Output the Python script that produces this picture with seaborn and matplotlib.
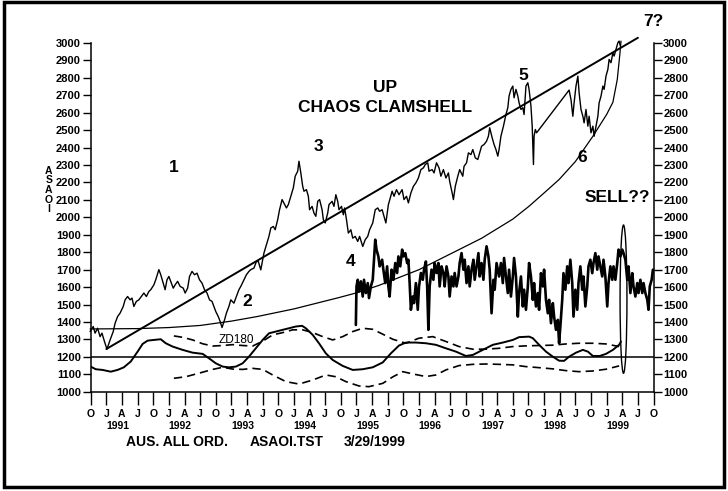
import numpy as np
import pandas as pd
import seaborn as sns
import matplotlib.pyplot as plt
from matplotlib.patches import Ellipse, Rectangle
import matplotlib.transforms as mtransforms

# ASAOI weekly closes (decimal year, index value)
price_year = [
    1990.74, 1990.79, 1990.82, 1990.86, 1990.90, 1990.93, 1990.97, 1991.01, 1991.06, 1991.11,
    1991.14, 1991.18, 1991.22, 1991.27, 1991.30, 1991.34, 1991.38, 1991.41, 1991.44, 1991.48,
    1991.52, 1991.56, 1991.60, 1991.64, 1991.68, 1991.71, 1991.76, 1991.79, 1991.84, 1991.87,
    1991.91, 1991.94, 1991.97, 1992.00, 1992.03, 1992.07, 1992.10, 1992.14, 1992.18, 1992.23,
    1992.26, 1992.30, 1992.33, 1992.37, 1992.41, 1992.45, 1992.49, 1992.53, 1992.57, 1992.61,
    1992.65, 1992.69, 1992.72, 1992.75, 1992.79, 1992.82, 1992.85, 1992.89, 1992.92, 1992.96,
    1992.99, 1993.04, 1993.08, 1993.12, 1993.15, 1993.20, 1993.24, 1993.28, 1993.31, 1993.36,
    1993.40, 1993.43, 1993.47, 1993.50, 1993.52, 1993.56, 1993.60, 1993.63, 1993.67, 1993.70,
    1993.74, 1993.77, 1993.81, 1993.84, 1993.88, 1993.91, 1993.95, 1993.99, 1994.02, 1994.06,
    1994.08, 1994.11, 1994.14, 1994.16, 1994.20, 1994.23, 1994.25, 1994.29, 1994.32, 1994.35,
    1994.38, 1994.41, 1994.45, 1994.47, 1994.50, 1994.54, 1994.56, 1994.61, 1994.64, 1994.67,
    1994.70, 1994.72, 1994.76, 1994.79, 1994.81, 1994.84, 1994.87, 1994.91, 1994.94, 1994.98,
    1995.02, 1995.05, 1995.10, 1995.14, 1995.18, 1995.21, 1995.26, 1995.30, 1995.34, 1995.37,
    1995.41, 1995.44, 1995.47, 1995.51, 1995.57, 1995.60, 1995.64, 1995.68, 1995.73, 1995.76,
    1995.80, 1995.83, 1995.87, 1995.91, 1995.95, 1995.99, 1996.03, 1996.07, 1996.10, 1996.14,
    1996.16, 1996.21, 1996.24, 1996.28, 1996.32, 1996.35, 1996.39, 1996.43, 1996.47, 1996.49,
    1996.53, 1996.55, 1996.58, 1996.62, 1996.65, 1996.70, 1996.72, 1996.76, 1996.79, 1996.83,
    1996.86, 1996.90, 1996.94, 1996.97, 1997.00, 1997.04, 1997.08, 1997.11, 1997.13, 1997.17,
    1997.20, 1997.23, 1997.26, 1997.28, 1997.31, 1997.35, 1997.39, 1997.42, 1997.44, 1997.47,
    1997.50, 1997.52, 1997.55, 1997.58, 1997.60, 1997.63, 1997.66, 1997.68, 1997.71, 1997.74,
    1997.76, 1997.79, 1997.81, 1997.83, 1997.84, 1997.86, 1997.88, 1998.40, 1998.43, 1998.46,
    1998.48, 1998.51, 1998.54, 1998.56, 1998.59, 1998.62, 1998.64, 1998.67, 1998.70, 1998.72,
    1998.75, 1998.78, 1998.80, 1998.83, 1998.86, 1998.88, 1998.91, 1998.94, 1998.96, 1998.99,
    1999.02, 1999.04, 1999.07, 1999.10, 1999.12, 1999.15, 1999.18, 1999.20, 1999.22,
]
price_value = [
    1345, 1374, 1336, 1364, 1316, 1336, 1288, 1244, 1297, 1345,
    1393, 1431, 1451, 1489, 1527, 1546, 1527, 1537, 1489, 1518,
    1527, 1546, 1566, 1546, 1575, 1585, 1613, 1642, 1700, 1671,
    1623, 1585, 1642, 1661, 1633, 1594, 1613, 1633, 1604, 1594,
    1566, 1594, 1661, 1690, 1671, 1680, 1642, 1623, 1585, 1566,
    1527, 1518, 1489, 1460, 1431, 1403, 1368, 1412, 1451, 1489,
    1527, 1508, 1546, 1585, 1604, 1642, 1671, 1690, 1700, 1709,
    1747, 1747, 1699, 1757, 1795, 1843, 1891, 1939, 1948, 1929,
    1987, 2044, 2102, 2082, 2054, 2073, 2121, 2169, 2236, 2265,
    2322, 2255, 2178, 2150, 2159, 2121, 2044, 2063, 2025, 2006,
    2092, 2102, 2044, 1987, 1968, 2025, 2073, 2092, 2063, 2130,
    2092, 2044, 2063, 2015, 2054, 1987, 1910, 1929, 1881, 1891,
    1862, 1891, 1833, 1872, 1891, 1929, 1968, 2044, 2054, 2035,
    2044, 2006, 1968, 2073, 2150, 2121, 2159, 2130, 2159, 2102,
    2121, 2083, 2140, 2178, 2198, 2226, 2274, 2284, 2303, 2313,
    2265, 2274, 2255, 2313, 2284, 2236, 2274, 2226, 2255, 2207,
    2140, 2102, 2178, 2236, 2274, 2236, 2293, 2313, 2370, 2360,
    2389, 2341, 2332, 2370, 2408, 2418, 2437, 2466, 2514, 2456,
    2418, 2389, 2351, 2389, 2466, 2523, 2590, 2629, 2696, 2734,
    2753, 2686, 2734, 2696, 2657, 2619, 2629, 2590, 2753, 2772,
    2734, 2638, 2523, 2303, 2466, 2504, 2485, 2730, 2676, 2580,
    2657, 2753, 2810, 2715, 2619, 2580, 2542, 2619, 2523, 2580,
    2485, 2523, 2465, 2523, 2580, 2657, 2695, 2753, 2734, 2810,
    2849, 2906, 2887, 2944, 2925, 2964, 3002, 3011, 2983,
]

# detrended cycle series (noisy band, 1995-1999)
cycle_year = [
    1994.99, 1995.00, 1995.02, 1995.04, 1995.07, 1995.10, 1995.12, 1995.15, 1995.18, 1995.20,
    1995.23, 1995.26, 1995.28, 1995.30, 1995.32, 1995.35, 1995.37, 1995.41, 1995.43, 1995.46,
    1995.49, 1995.51, 1995.53, 1995.56, 1995.59, 1995.62, 1995.65, 1995.67, 1995.70, 1995.73,
    1995.75, 1995.78, 1995.81, 1995.83, 1995.85, 1995.87, 1995.90, 1995.92, 1995.95, 1995.98,
    1996.00, 1996.03, 1996.06, 1996.08, 1996.11, 1996.13, 1996.15, 1996.17, 1996.20, 1996.23,
    1996.25, 1996.28, 1996.31, 1996.33, 1996.36, 1996.39, 1996.41, 1996.44, 1996.47, 1996.49,
    1996.52, 1996.55, 1996.57, 1996.60, 1996.63, 1996.65, 1996.68, 1996.71, 1996.73, 1996.76,
    1996.79, 1996.81, 1996.84, 1996.87, 1996.89, 1996.92, 1996.95, 1996.97, 1997.00, 1997.03,
    1997.05, 1997.08, 1997.11, 1997.13, 1997.16, 1997.19, 1997.21, 1997.24, 1997.27, 1997.28,
    1997.31, 1997.34, 1997.36, 1997.39, 1997.42, 1997.44, 1997.47, 1997.50, 1997.52, 1997.55,
    1997.58, 1997.60, 1997.63, 1997.66, 1997.68, 1997.71, 1997.74, 1997.76, 1997.79, 1997.82,
    1997.84, 1997.87, 1997.90, 1997.92, 1997.95, 1997.98, 1998.00, 1998.03, 1998.06, 1998.08,
    1998.11, 1998.14, 1998.16, 1998.19, 1998.22, 1998.24, 1998.26, 1998.29, 1998.31, 1998.34,
    1998.37, 1998.39, 1998.42, 1998.45, 1998.47, 1998.50, 1998.53, 1998.55, 1998.58, 1998.61,
    1998.63, 1998.66, 1998.69, 1998.71, 1998.74, 1998.77, 1998.79, 1998.82, 1998.85, 1998.87,
    1998.90, 1998.93, 1998.95, 1998.98, 1999.01, 1999.03, 1999.06, 1999.09, 1999.11, 1999.14,
    1999.17, 1999.19, 1999.22, 1999.25, 1999.27, 1999.30, 1999.33, 1999.35, 1999.38, 1999.41,
    1999.43, 1999.46, 1999.49, 1999.51, 1999.54, 1999.57, 1999.59, 1999.62, 1999.65, 1999.67,
    1999.69, 1999.72, 1999.74,
]
cycle_value = [
    1383, 1604, 1642, 1575, 1633, 1546, 1642, 1566, 1623, 1537,
    1604, 1642, 1757, 1872, 1815, 1776, 1719, 1757, 1700, 1623,
    1719, 1604, 1546, 1700, 1642, 1738, 1681, 1776, 1719, 1815,
    1776, 1795, 1738, 1757, 1623, 1470, 1546, 1508, 1623, 1470,
    1604, 1681, 1642, 1700, 1747, 1604, 1355, 1604, 1700, 1642,
    1738, 1681, 1738, 1604, 1719, 1681, 1604, 1719, 1661, 1546,
    1661, 1604, 1681, 1604, 1661, 1738, 1795, 1700, 1757, 1623,
    1719, 1604, 1700, 1757, 1642, 1719, 1795, 1661, 1738, 1642,
    1757, 1834, 1776, 1700, 1450, 1642, 1585, 1738, 1681, 1661,
    1738, 1623, 1767, 1661, 1566, 1700, 1546, 1661, 1767, 1661,
    1431, 1566, 1661, 1489, 1585, 1470, 1604, 1738, 1661, 1527,
    1623, 1489, 1566, 1470, 1680, 1604, 1700, 1527, 1450, 1527,
    1393, 1508, 1431, 1355, 1412, 1278, 1374, 1527, 1680, 1585,
    1719, 1623, 1757, 1623, 1431, 1585, 1470, 1623, 1719, 1585,
    1661, 1489, 1604, 1719, 1757, 1680, 1738, 1795, 1700, 1776,
    1719, 1661, 1757, 1661, 1489, 1623, 1719, 1642, 1719, 1642,
    1738, 1815, 1776, 1815, 1795, 1757, 1642, 1719, 1566, 1680,
    1604, 1546, 1623, 1566, 1642, 1566, 1623, 1566, 1527, 1470,
    1604, 1642, 1700,
]

# ZD180 oscillator and its dashed bands
zd_year = [
    1990.75, 1990.83, 1990.94, 1991.07, 1991.18, 1991.28, 1991.39, 1991.50, 1991.58, 1991.66,
    1991.76, 1991.87, 1991.95, 1992.06, 1992.22, 1992.38, 1992.54, 1992.64, 1992.75, 1992.86,
    1992.96, 1993.07, 1993.18, 1993.28, 1993.39, 1993.50, 1993.60, 1993.71, 1993.82, 1993.92,
    1994.03, 1994.13, 1994.19, 1994.30, 1994.40, 1994.51, 1994.62, 1994.78, 1994.94, 1995.10,
    1995.26, 1995.42, 1995.55, 1995.68, 1995.79, 1995.95, 1996.11, 1996.27, 1996.43, 1996.59,
    1996.75, 1996.86, 1997.02, 1997.18, 1997.34, 1997.50, 1997.60, 1997.76, 1997.82, 1997.92,
    1998.03, 1998.14, 1998.24, 1998.32, 1998.40, 1998.51, 1998.62, 1998.70, 1998.78, 1998.89,
    1998.99, 1999.10, 1999.20, 1999.23,
]
zd_value = [
    1144, 1129, 1125, 1115, 1125, 1140, 1173, 1230, 1274, 1293,
    1297, 1301, 1278, 1259, 1240, 1224, 1217, 1192, 1163, 1144,
    1140, 1144, 1163, 1201, 1249, 1297, 1335, 1345, 1355, 1364,
    1374, 1378, 1364, 1326, 1278, 1220, 1182, 1148, 1125, 1129,
    1140, 1168, 1220, 1265, 1282, 1282, 1278, 1269, 1249, 1230,
    1205, 1211, 1240, 1269, 1282, 1297, 1313, 1316, 1307, 1269,
    1230, 1201, 1178, 1177, 1201, 1224, 1240, 1230, 1205, 1205,
    1217, 1240, 1269, 1288,
]
upper_year = [
    1992.08, 1992.22, 1992.38, 1992.54, 1992.70, 1992.86, 1993.02, 1993.18, 1993.34, 1993.50,
    1993.66, 1993.82, 1993.98, 1994.14, 1994.30, 1994.46, 1994.62, 1994.78, 1994.94, 1995.10,
    1995.26, 1995.42, 1995.58, 1995.79, 1996.00, 1996.22, 1996.43, 1996.64, 1996.86, 1997.07,
    1997.28, 1997.50, 1997.71, 1997.92, 1998.14, 1998.35, 1998.56, 1998.78, 1998.99, 1999.20,
]
upper_value = [
    1320, 1312, 1297, 1275, 1262, 1265, 1270, 1265, 1262, 1290,
    1326, 1339, 1355, 1355, 1339, 1316, 1297, 1316, 1345, 1364,
    1358, 1330, 1301, 1278, 1307, 1316, 1288, 1259, 1244, 1244,
    1249, 1259, 1263, 1265, 1267, 1274, 1278, 1278, 1274, 1259,
]
lower_year = [
    1992.08, 1992.27, 1992.48, 1992.70, 1992.86, 1993.02, 1993.18, 1993.34, 1993.50, 1993.66,
    1993.87, 1994.08, 1994.30, 1994.51, 1994.67, 1994.83, 1995.04, 1995.20, 1995.42, 1995.58,
    1995.74, 1995.90, 1996.11, 1996.27, 1996.43, 1996.64, 1996.86, 1997.07, 1997.28, 1997.50,
    1997.71, 1997.92, 1998.14, 1998.35, 1998.56, 1998.78, 1998.99, 1999.20,
]
lower_value = [
    1077, 1086, 1106, 1128, 1140, 1130, 1128, 1134, 1128, 1096,
    1058, 1044, 1067, 1096, 1086, 1058, 1033, 1029, 1048, 1085,
    1115, 1102, 1087, 1096, 1125, 1150, 1157, 1159, 1157, 1154,
    1144, 1138, 1131, 1121, 1115, 1119, 1129, 1148,
]

# clamshell: upper trend line and lower curve
trend_year = [1991.00, 1999.50]
trend_value = [1245, 3030]
shell_year = [1990.74, 1991.50, 1992.00, 1992.50, 1993.00, 1993.41, 1994.00, 1994.72, 1995.00,
              1995.36, 1996.00, 1996.50, 1997.00, 1997.50, 1997.76, 1998.00, 1998.24, 1998.50,
              1998.78, 1999.00, 1999.10, 1999.17, 1999.21, 1999.23]
shell_value = [1360, 1362, 1368, 1380, 1405, 1431, 1475, 1540, 1567,
               1610, 1700, 1790, 1880, 1990, 2064, 2140, 2217, 2320,
               2465, 2590, 2660, 2790, 2930, 3011]

wave_labels = ['1', '2', '3', '4', '5', '6', '7?']
wave_year = [1992.08, 1993.25, 1994.39, 1994.90, 1997.67, 1998.61, 1999.75]
wave_value = [2286, 1516, 2406, 1745, 2815, 2344, 3125]

quarter_labels = ['O', 'J', 'A', 'J'] * 9 + ['O']
years = list(range(1991, 2000))

sns.set_theme(style='ticks')
plt.rcParams['font.family'] = ['Liberation Sans', 'DejaVu Sans']
plt.rcParams.update({'text.color': 'black', 'xtick.color': 'black', 'ytick.color': 'black',
                     'axes.edgecolor': 'black'})

fig = plt.figure(figsize=(7.28, 4.91), dpi=100)
ax = fig.add_axes([0.1246, 0.2022, 0.7731, 0.7102])

k = dict(ax=ax, color='black', sort=False, estimator=None, legend=False)
sns.lineplot(x=price_year, y=price_value, lw=1.0, clip_on=False, **k)
sns.lineplot(x=cycle_year, y=cycle_value, lw=1.9, **k)
sns.lineplot(x=zd_year, y=zd_value, lw=1.4, **k)
sns.lineplot(x=upper_year, y=upper_value, lw=1.2, linestyle=(0, (5, 3)), **k)
sns.lineplot(x=lower_year, y=lower_value, lw=1.2, linestyle=(0, (5, 3)), **k)
sns.lineplot(x=trend_year, y=trend_value, lw=1.4, clip_on=False, **k)
sns.lineplot(x=shell_year, y=shell_value, lw=0.9, clip_on=False, **k)
ax.axhline(1200, color='black', lw=1.1)

ax.add_patch(Ellipse((1999.27, 1531), 0.11, 850, fill=False, ec='black', lw=1.0))

ax.set_xlim(1990.75, 1999.75)
ax.set_ylim(1000, 3000)
ax.set_yticks(range(1000, 3001, 100))
ax.set_xticks(np.arange(1990.75, 1999.76, 0.25))
ax.set_xticklabels(quarter_labels)
ax.tick_params(axis='y', left=True, right=True, labelleft=True, labelright=True,
               direction='out', length=6, width=1.0, pad=1, labelsize=8)
ax.tick_params(axis='x', direction='out', length=9.5, width=1.0, pad=3, labelsize=7.5)
for lab in ax.get_xticklabels() + ax.get_yticklabels():
    lab.set_fontweight('bold')
for t in ax.yaxis.get_major_ticks():
    t.label2.set_fontweight('bold')
ax.set_xlabel('')
ax.set_ylabel('')
ax.spines['top'].set_visible(False)
for s in ['left', 'right', 'bottom']:
    ax.spines[s].set_linewidth(1.1)
    ax.spines[s].set_color('black')
ax.grid(False)

trans = mtransforms.blended_transform_factory(ax.transData, ax.transAxes)
for yr in years:
    ax.text(yr + 0.18, -0.097, str(yr), transform=trans, ha='center', va='center',
            fontsize=7.5, fontweight='bold')

for lab, x, y in zip(wave_labels, wave_year, wave_value):
    ax.text(x, y, lab, ha='center', va='center', fontsize=12.5, fontweight='bold', clip_on=False)
ax.text(1995.45, 2745, 'UP', ha='center', va='center', fontsize=12.5, fontweight='bold')
ax.text(1995.45, 2630, 'CHAOS CLAMSHELL', ha='center', va='center', fontsize=12.5, fontweight='bold')
ax.text(1999.17, 2113, 'SELL??', ha='center', va='center', fontsize=12.5, fontweight='bold')
ax.text(1993.08, 1297, 'ZD180', ha='center', va='center', fontsize=8.5)

fig.text(0.067, 0.613, 'A\nS\nA\nO\nI', ha='center', va='center', fontsize=7.5,
         fontweight='bold', linespacing=0.95)
fig.text(0.243, 0.099, 'AUS. ALL ORD.', ha='center', va='center', fontsize=10, fontweight='bold')
fig.text(0.394, 0.099, 'ASAOI.TST', ha='center', va='center', fontsize=10, fontweight='bold')
fig.text(0.515, 0.099, '3/29/1999', ha='center', va='center', fontsize=10, fontweight='bold')

fig.add_artist(Rectangle((4 / 728, 4 / 491), 720 / 728, 485 / 491, transform=fig.transFigure,
                         fill=False, ec='black', lw=2.5))

fig.savefig('out.png', dpi=100)
